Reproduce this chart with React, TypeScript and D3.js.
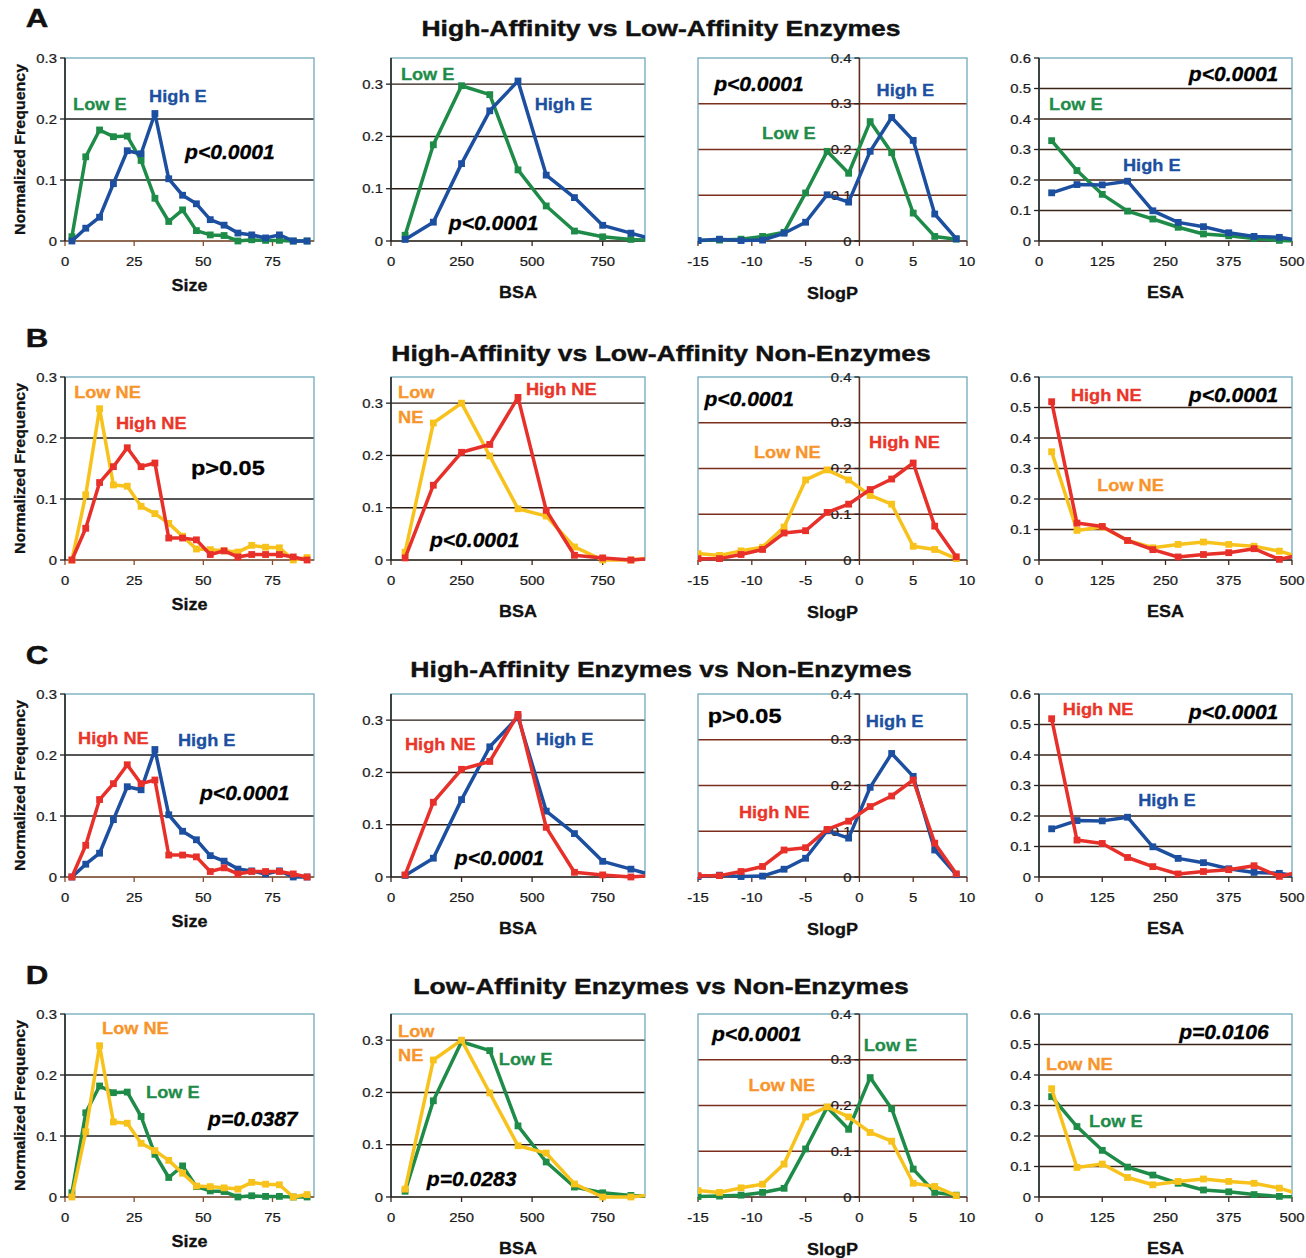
import React from "react";
import * as d3 from "d3";

// ---- data (normalized frequency per bin) ----
const sizeBins = [2.5, 7.5, 12.5, 17.5, 22.5, 27.5, 32.5, 37.5, 42.5, 47.5, 52.5, 57.5, 62.5, 67.5, 72.5, 77.5, 82.5, 87.5];
const sizeHighE = [0, 0.021, 0.039, 0.094, 0.148, 0.143, 0.209, 0.102, 0.075, 0.061, 0.035, 0.026, 0.013, 0.01, 0.005, 0.01, 0, 0];
const sizeLowE = [0.007, 0.138, 0.182, 0.171, 0.172, 0.132, 0.07, 0.032, 0.051, 0.017, 0.01, 0.009, 0, 0.002, 0.001, 0.001, 0, 0];
const sizeHighNE = [0, 0.052, 0.127, 0.153, 0.184, 0.153, 0.159, 0.036, 0.036, 0.033, 0.009, 0.015, 0.005, 0.009, 0.009, 0.009, 0.005, 0];
const sizeLowNE = [0, 0.107, 0.248, 0.123, 0.121, 0.088, 0.076, 0.06, 0.039, 0.018, 0.017, 0.015, 0.013, 0.024, 0.021, 0.02, 0, 0.004];

const bsaBins = [50, 150, 250, 350, 450, 550, 650, 750, 850, 950];
const bsaHighE = [0.003, 0.036, 0.148, 0.249, 0.306, 0.126, 0.083, 0.03, 0.015, 0];
const bsaLowE = [0.011, 0.184, 0.297, 0.28, 0.136, 0.067, 0.019, 0.008, 0.003, 0.001];
const bsaHighNE = [0.004, 0.143, 0.206, 0.221, 0.311, 0.095, 0.009, 0.004, 0, 0.004];
const bsaLowNE = [0.015, 0.262, 0.3, 0.199, 0.098, 0.084, 0.025, 0, 0, 0.006];

const slogpBins = [-15, -13, -11, -9, -7, -5, -3, -1, 1, 3, 5, 7, 9];
const slogpHighE = [0.001, 0.004, 0.001, 0.002, 0.017, 0.041, 0.101, 0.085, 0.196, 0.27, 0.22, 0.059, 0.005];
const slogpLowE = [0.001, 0.002, 0.004, 0.01, 0.019, 0.105, 0.196, 0.148, 0.261, 0.193, 0.061, 0.01, 0.004];
const slogpHighNE = [0.003, 0.003, 0.012, 0.023, 0.059, 0.064, 0.104, 0.122, 0.154, 0.177, 0.212, 0.074, 0.007];
const slogpLowNE = [0.014, 0.01, 0.02, 0.028, 0.072, 0.175, 0.197, 0.175, 0.141, 0.122, 0.03, 0.023, 0.003];

const esaBins = [25, 75, 125, 175, 225, 275, 325, 375, 425, 475, 525];
const esaHighE = [0.158, 0.185, 0.184, 0.196, 0.099, 0.061, 0.047, 0.027, 0.015, 0.012, 0];
const esaLowE = [0.329, 0.231, 0.153, 0.098, 0.072, 0.045, 0.023, 0.017, 0.008, 0.002, 0];
const esaHighNE = [0.519, 0.121, 0.11, 0.064, 0.034, 0.01, 0.018, 0.024, 0.037, 0.002, 0.02];
const esaLowNE = [0.355, 0.097, 0.108, 0.064, 0.04, 0.051, 0.059, 0.051, 0.045, 0.029, 0.005];

const rowLetters = ["A", "B", "C", "D"];
const rowTitles = [
  "High-Affinity vs Low-Affinity Enzymes",
  "High-Affinity vs Low-Affinity Non-Enzymes",
  "High-Affinity Enzymes vs Non-Enzymes",
  "Low-Affinity Enzymes vs Non-Enzymes",
];
// draw order per row (last one on top)
const rowGroups = [
  ["LowE", "HighE"],
  ["LowNE", "HighNE"],
  ["HighE", "HighNE"],
  ["LowE", "LowNE"],
];

const series = {
  Size: { HighE: sizeHighE, LowE: sizeLowE, HighNE: sizeHighNE, LowNE: sizeLowNE },
  BSA: { HighE: bsaHighE, LowE: bsaLowE, HighNE: bsaHighNE, LowNE: bsaLowNE },
  SlogP: { HighE: slogpHighE, LowE: slogpLowE, HighNE: slogpHighNE, LowNE: slogpLowNE },
  ESA: { HighE: esaHighE, LowE: esaLowE, HighNE: esaHighNE, LowNE: esaLowNE },
};

const lineColor = { HighE: "#1c4f9f", LowE: "#1e8c48", HighNE: "#e8302a", LowNE: "#f8c21c" };
const labelColor = { HighE: "#1c4f9f", LowE: "#1e8c48", HighNE: "#ea3529", LowNE: "#f7942a" };

const columns = [
  { name: "Size", bins: sizeBins, left: 65, right: 314, xDomain: [0, 90], xTicks: [0, 25, 50, 75], yMax: 0.3, yTicks: [0, 0.1, 0.2, 0.3], yAxisAt: null, grid: "#1e1e1e", xAxis: "#8c4b2a", titleDy: 44 },
  { name: "BSA", bins: bsaBins, left: 391, right: 645, xDomain: [0, 900], xTicks: [0, 250, 500, 750], yMax: 0.35, yTicks: [0, 0.1, 0.2, 0.3], yAxisAt: null, grid: "#2a1a12", xAxis: "#3a2418", titleDy: 51 },
  { name: "SlogP", bins: slogpBins, left: 698, right: 967, xDomain: [-15, 10], xTicks: [-15, -10, -5, 0, 5, 10], yMax: 0.4, yTicks: [0, 0.1, 0.2, 0.3, 0.4], yAxisAt: 0, grid: "#7a2e1c", xAxis: "#5a3020", titleDy: 52 },
  { name: "ESA", bins: esaBins, left: 1039, right: 1292, xDomain: [0, 500], xTicks: [0, 125, 250, 375, 500], yMax: 0.6, yTicks: [0, 0.1, 0.2, 0.3, 0.4, 0.5, 0.6], yAxisAt: null, grid: "#3d2418", xAxis: "#3d2418", titleDy: 51 },
];

// annotations: g = series key (colored label), p = p-value (italic), u = upright p-value
const annotations = [
  [
    [{ t: "Low E", g: "LowE", x: 2.9, y: 0.225 }, { t: "High E", g: "HighE", x: 30.4, y: 0.238 }, { t: "p<0.0001", p: true, x: 43.4, y: 0.146 }],
    [{ t: "Low E", g: "LowE", x: 35, y: 0.319 }, { t: "High E", g: "HighE", x: 509, y: 0.262 }, { t: "p<0.0001", p: true, x: 205, y: 0.034 }],
    [{ t: "p<0.0001", p: true, x: -13.5, y: 0.343 }, { t: "High E", g: "HighE", x: 1.6, y: 0.33 }, { t: "Low E", g: "LowE", x: -9.05, y: 0.236 }],
    [{ t: "p<0.0001", p: true, x: 296, y: 0.548 }, { t: "Low E", g: "LowE", x: 20, y: 0.449 }, { t: "High E", g: "HighE", x: 166, y: 0.249 }],
  ],
  [
    [{ t: "Low NE", g: "LowNE", x: 3.3, y: 0.275 }, { t: "High NE", g: "HighNE", x: 18.4, y: 0.225 }, { t: "p>0.05", u: true, x: 45.5, y: 0.151 }],
    [{ t: "Low", g: "LowNE", x: 25, y: 0.321 }, { t: "NE", g: "LowNE", x: 25, y: 0.273 }, { t: "High NE", g: "HighNE", x: 478, y: 0.327 }, { t: "p<0.0001", p: true, x: 138, y: 0.038 }],
    [{ t: "p<0.0001", p: true, x: -14.4, y: 0.352 }, { t: "Low NE", g: "LowNE", x: -9.8, y: 0.236 }, { t: "High NE", g: "HighNE", x: 0.9, y: 0.258 }],
    [{ t: "High NE", g: "HighNE", x: 63, y: 0.541 }, { t: "p<0.0001", p: true, x: 296, y: 0.541 }, { t: "Low NE", g: "LowNE", x: 115, y: 0.246 }],
  ],
  [
    [{ t: "High NE", g: "HighNE", x: 4.7, y: 0.228 }, { t: "High E", g: "HighE", x: 40.8, y: 0.225 }, { t: "p<0.0001", p: true, x: 48.8, y: 0.138 }],
    [{ t: "High NE", g: "HighNE", x: 49.5, y: 0.254 }, { t: "High E", g: "HighE", x: 513, y: 0.264 }, { t: "p<0.0001", p: true, x: 226, y: 0.036 }],
    [{ t: "p>0.05", u: true, x: -14.1, y: 0.352 }, { t: "High E", g: "HighE", x: 0.6, y: 0.341 }, { t: "High NE", g: "HighNE", x: -11.2, y: 0.142 }],
    [{ t: "High NE", g: "HighNE", x: 47, y: 0.551 }, { t: "p<0.0001", p: true, x: 296, y: 0.541 }, { t: "High E", g: "HighE", x: 196, y: 0.252 }],
  ],
  [
    [{ t: "Low NE", g: "LowNE", x: 13.4, y: 0.277 }, { t: "Low E", g: "LowE", x: 29.3, y: 0.172 }, { t: "p=0.0387", p: true, x: 51.7, y: 0.128 }],
    [{ t: "Low", g: "LowNE", x: 25, y: 0.317 }, { t: "NE", g: "LowNE", x: 25, y: 0.272 }, { t: "Low E", g: "LowE", x: 382, y: 0.264 }, { t: "p=0.0283", p: true, x: 127, y: 0.034 }],
    [{ t: "p<0.0001", p: true, x: -13.7, y: 0.356 }, { t: "Low E", g: "LowE", x: 0.4, y: 0.332 }, { t: "Low NE", g: "LowNE", x: -10.3, y: 0.245 }],
    [{ t: "p=0.0106", p: true, x: 277, y: 0.541 }, { t: "Low NE", g: "LowNE", x: 14, y: 0.436 }, { t: "Low E", g: "LowE", x: 99, y: 0.249 }],
  ],
];

const rowTop = [58, 377, 694, 1014];
const plotH = 183;
const rowTitleY = [28, 353, 669, 986];
const rowLetterY = [18, 338, 655, 975];
const frameColor = "#6fa9bc";
const FONT = "'Liberation Sans', Arial, Helvetica, sans-serif";

function Txt({ x, y, size, sx = 1, anchor = "start", weight = "bold", italic = false, fill = "#111", rotate = 0, heavy = 0, children }) {
  const tr = `translate(${x},${y})${rotate ? ` rotate(${rotate})` : ""} scale(${sx},1)`;
  return (
    <text
      transform={tr}
      fontSize={size}
      fontWeight={weight}
      fontStyle={italic ? "italic" : "normal"}
      textAnchor={anchor}
      dy="0.35em"
      fill={fill}
      stroke={heavy ? fill : "none"}
      strokeWidth={heavy}
    >
      {children}
    </text>
  );
}

function Panel({ row, col }) {
  const c = columns[col];
  const top = rowTop[row];
  const bottom = top + plotH;
  const x = d3.scaleLinear().domain(c.xDomain).range([c.left, c.right]);
  const y = d3.scaleLinear().domain([0, c.yMax]).range([bottom, top]);
  const axisX = c.yAxisAt == null ? c.left : x(c.yAxisAt);
  const clipId = `clip-${row}-${col}`;
  const groups = rowGroups[row];

  return (
    <g>
      <defs>
        <clipPath id={clipId}>
          <rect x={c.left} y={top - 10} width={c.right - c.left} height={plotH + 20} />
        </clipPath>
      </defs>
      {/* grid */}
      {c.yTicks
        .filter((t) => t > 0 && t < c.yMax - 1e-9)
        .map((t) => (
          <line key={t} x1={c.left} x2={c.right} y1={y(t)} y2={y(t)} stroke={c.grid} strokeWidth={1.4} />
        ))}
      <rect x={c.left} y={top} width={c.right - c.left} height={plotH} fill="none" stroke={frameColor} strokeWidth={1.3} />
      {/* axes */}
      <line x1={c.left} x2={c.right} y1={bottom} y2={bottom} stroke={c.xAxis} strokeWidth={1.7} />
      <line x1={axisX} x2={axisX} y1={top} y2={bottom} stroke={col === 2 ? "#5a3020" : "#222"} strokeWidth={1.6} />
      {c.xTicks.map((t) => (
        <g key={t}>
          <line x1={x(t)} x2={x(t)} y1={bottom} y2={bottom + 5} stroke={c.xAxis} strokeWidth={1.3} />
          <Txt x={x(t)} y={bottom + 20} size={13.5} sx={1.1} anchor="middle" weight="normal" fill="#1a1a1a" heavy={0.25}>
            {String(t)}
          </Txt>
        </g>
      ))}
      {c.yTicks.map((t) => (
        <g key={t}>
          <line x1={axisX - 5} x2={axisX} y1={y(t)} y2={y(t)} stroke="#222" strokeWidth={1.3} />
          <Txt x={axisX - 8} y={y(t)} size={13.5} sx={1.1} anchor="end" weight="normal" fill="#1a1a1a" heavy={0.25}>
            {String(t)}
          </Txt>
        </g>
      ))}
      {/* series */}
      <g clipPath={`url(#${clipId})`}>
        {groups.map((gk) => {
          const vals = series[c.name][gk];
          const pts = vals.map((v, i) => [x(c.bins[i]), y(v)]);
          const path = d3.line()(pts);
          return (
            <g key={gk}>
              <path d={path} fill="none" stroke={lineColor[gk]} strokeWidth={3.5} strokeLinejoin="round" />
              {pts.map((p, i) => (
                <rect key={i} x={p[0] - 3.4} y={p[1] - 3.4} width={6.8} height={6.8} fill={lineColor[gk]} />
              ))}
            </g>
          );
        })}
      </g>
      {/* annotations */}
      {annotations[row][col].map((a, i) =>
        a.g ? (
          <Txt key={i} x={x(a.x)} y={y(a.y)} size={17} sx={1.07} fill={labelColor[a.g]} heavy={0.3}>
            {a.t}
          </Txt>
        ) : (
          <Txt key={i} x={x(a.x)} y={y(a.y)} size={a.u ? 21 : 19.5} sx={a.u ? 1.12 : 1.08} italic={!!a.p} fill="#000" heavy={0.3}>
            {a.t}
          </Txt>
        )
      )}
      {/* axis title */}
      <Txt x={(c.left + c.right) / 2} y={bottom + c.titleDy} size={17} sx={1.06} anchor="middle" heavy={0.3}>
        {c.name}
      </Txt>
      {col === 0 && (
        <Txt x={20} y={(top + bottom) / 2} size={15.5} sx={1.03} anchor="middle" rotate={-90} heavy={0.3}>
          Normalized Frequency
        </Txt>
      )}
    </g>
  );
}

export default function App() {
  return (
    <svg
      width={1306}
      height={1258}
      style={{ display: "block", position: "absolute", left: 0, top: 0, background: "#fff" }}
      fontFamily={FONT}
    >
      <rect width={1306} height={1258} fill="#fff" />
      {rowTitles.map((t, r) => (
        <g key={r}>
          <Txt x={37} y={rowLetterY[r]} size={25} sx={1.25} anchor="middle" heavy={0.4}>
            {rowLetters[r]}
          </Txt>
          <Txt x={661} y={rowTitleY[r]} size={22.5} sx={1.18} anchor="middle" heavy={0.4}>
            {t}
          </Txt>
          {columns.map((_, ci) => (
            <Panel key={ci} row={r} col={ci} />
          ))}
        </g>
      ))}
    </svg>
  );
}
